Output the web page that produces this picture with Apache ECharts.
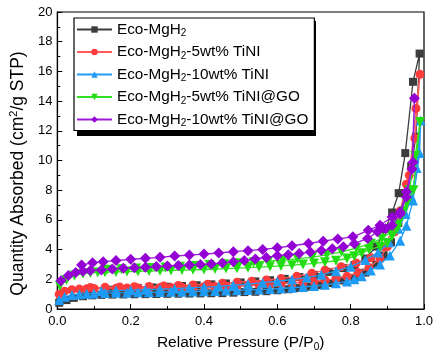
<!DOCTYPE html>
<html>
<head>
<meta charset="utf-8">
<script src="https://cdn.jsdelivr.net/npm/echarts@6/dist/echarts.min.js"></script>
<style>
  html, body { margin: 0; padding: 0; background: #fff; }
  #chart { width: 437px; height: 357px; }
</style>
</head>
<body>
<div id="chart"></div>
<script>
// legend names (rich text for the subscript)
const seriesNames = [
  "Eco-MgH2",
  "Eco-MgH2-5wt% TiNI",
  "Eco-MgH2-10wt% TiNI",
  "Eco-MgH2-5wt% TiNI@GO",
  "Eco-MgH2-10wt% TiNI@GO"
];

// [P/P0, quantity] : adsorption up, then desorption down
const ecoMgH2 = [
  [0.005,0.42],[0.025,0.6],[0.045,0.75],[0.07,0.86],[0.095,0.92],[0.12,0.95],[0.15,0.97],[0.18,0.98],
  [0.21,0.99],[0.24,1.0],[0.27,1.01],[0.30,1.02],[0.33,1.03],[0.36,1.04],[0.39,1.05],[0.42,1.06],
  [0.45,1.07],[0.48,1.1],[0.51,1.14],[0.54,1.16],[0.57,1.2],[0.60,1.26],[0.63,1.33],[0.66,1.41],
  [0.69,1.5],[0.72,1.6],[0.75,1.75],[0.78,1.92],[0.81,2.1],[0.84,2.45],[0.87,3.0],[0.89,3.6],
  [0.91,4.5],[0.93,5.8],[0.95,7.8],[0.965,9.6],[0.978,11.6],[0.988,17.2],
  [0.97,15.3],[0.949,10.5],[0.931,7.8],[0.913,6.5],[0.895,5.4],[0.87,4.2],[0.84,3.4],[0.81,2.95],
  [0.78,2.75],[0.74,2.5],[0.70,2.3],[0.66,2.15],[0.62,2.03],[0.58,1.94],[0.54,1.86],[0.50,1.79],
  [0.46,1.72],[0.42,1.66],[0.38,1.6],[0.34,1.55],[0.30,1.5],[0.26,1.45],[0.22,1.4],[0.18,1.35],[0.14,1.3]
];
const tini5 = [
  [0.005,1.0],[0.02,1.2],[0.04,1.3],[0.06,1.34],[0.08,1.37],[0.1,1.38],[0.13,1.39],[0.16,1.4],
  [0.19,1.41],[0.22,1.42],[0.25,1.43],[0.28,1.44],[0.31,1.45],[0.34,1.46],[0.37,1.47],[0.40,1.49],
  [0.43,1.51],[0.46,1.53],[0.49,1.56],[0.52,1.59],[0.55,1.62],[0.58,1.66],[0.61,1.7],[0.64,1.75],
  [0.67,1.8],[0.70,1.86],[0.73,1.94],[0.76,2.05],[0.79,2.2],[0.82,2.45],[0.85,2.8],[0.88,3.4],
  [0.90,4.2],[0.92,5.2],[0.94,6.6],[0.96,9.0],[0.978,13.5],[0.989,15.8],
  [0.975,11.5],[0.952,8.4],[0.935,6.6],[0.915,5.3],[0.89,4.2],[0.855,3.45],[0.815,3.1],[0.774,2.85],
  [0.73,2.62],[0.694,2.4],[0.653,2.2],[0.61,2.05],[0.57,1.95],[0.53,1.87],[0.49,1.8],[0.45,1.73],
  [0.41,1.67],[0.37,1.62],[0.33,1.58],[0.29,1.55],[0.25,1.52],[0.21,1.5],[0.17,1.48],[0.13,1.46],[0.09,1.44]
];
const tini10 = [
  [0.005,0.6],[0.02,0.82],[0.04,0.95],[0.06,1.0],[0.08,1.03],[0.1,1.05],[0.13,1.07],[0.16,1.09],
  [0.19,1.1],[0.22,1.12],[0.25,1.13],[0.28,1.14],[0.31,1.16],[0.34,1.17],[0.37,1.18],[0.40,1.2],
  [0.43,1.22],[0.46,1.24],[0.49,1.26],[0.52,1.28],[0.55,1.31],[0.58,1.34],[0.61,1.38],[0.64,1.43],
  [0.67,1.48],[0.70,1.55],[0.73,1.63],[0.76,1.73],[0.79,1.86],[0.81,2.0],[0.83,2.2],[0.855,2.6],
  [0.88,3.0],[0.907,3.6],[0.935,4.6],[0.952,5.6],[0.97,7.3],[0.988,10.5],[0.991,12.7],
  [0.98,9.5],[0.965,7.6],[0.95,6.4],[0.93,5.4],[0.905,4.5],[0.875,3.8],[0.84,3.3],[0.80,2.85],
  [0.76,2.55],[0.72,2.3],[0.68,2.12],[0.64,1.98],[0.60,1.87],[0.56,1.77],[0.52,1.68],[0.48,1.6],
  [0.44,1.53],[0.40,1.47],[0.36,1.42],[0.32,1.37],[0.28,1.33],[0.24,1.3],[0.20,1.27],[0.16,1.24],[0.12,1.21]
];
const tini5GO = [
  [0.007,1.55],[0.025,1.95],[0.047,2.25],[0.07,2.38],[0.09,2.43],[0.11,2.46],[0.13,2.48],[0.16,2.5],
  [0.19,2.52],[0.22,2.54],[0.25,2.56],[0.28,2.58],[0.31,2.6],[0.34,2.62],[0.37,2.64],[0.40,2.66],
  [0.43,2.69],[0.46,2.72],[0.49,2.75],[0.52,2.78],[0.55,2.82],[0.58,2.86],[0.61,2.9],[0.64,2.95],
  [0.67,3.0],[0.70,3.07],[0.73,3.15],[0.76,3.25],[0.79,3.4],[0.81,3.55],[0.83,3.75],[0.85,4.0],
  [0.88,4.2],[0.90,4.45],[0.913,4.9],[0.927,5.4],[0.94,6.3],[0.953,7.1],[0.971,8.0],[0.989,12.6],
  [0.976,10.3],[0.96,8.0],[0.945,6.6],[0.93,5.7],[0.91,5.2],[0.885,4.75],[0.855,4.4],[0.815,4.1],
  [0.775,3.85],[0.735,3.65],[0.695,3.5],[0.655,3.38],[0.615,3.3],[0.575,3.22],[0.535,3.15],[0.495,3.08],
  [0.455,3.02],[0.415,2.96],[0.375,2.9],[0.335,2.85],[0.295,2.8],[0.255,2.76],[0.215,2.72],[0.175,2.68],[0.135,2.64]
];
const tini10GO = [
  [0.01,1.9],[0.03,2.25],[0.05,2.45],[0.07,2.55],[0.09,2.6],[0.12,2.63],[0.15,2.7],[0.18,2.74],
  [0.21,2.78],[0.24,2.81],[0.27,2.86],[0.30,2.9],[0.33,2.93],[0.36,2.96],[0.39,3.0],[0.42,3.03],
  [0.45,3.1],[0.48,3.19],[0.51,3.27],[0.54,3.37],[0.57,3.47],[0.60,3.59],[0.63,3.66],[0.66,3.73],
  [0.69,3.83],[0.72,3.94],[0.75,4.06],[0.78,4.19],[0.81,4.4],[0.846,4.75],[0.873,5.2],[0.895,5.4],
  [0.913,5.64],[0.935,6.4],[0.952,7.54],[0.967,9.43],[0.974,14.2],
  [0.97,9.88],[0.952,7.9],[0.935,6.53],[0.913,6.2],[0.88,5.64],[0.848,5.3],[0.806,4.86],[0.765,4.72],
  [0.725,4.57],[0.685,4.41],[0.64,4.26],[0.60,4.12],[0.56,4.01],[0.52,3.93],[0.48,3.86],[0.44,3.77],
  [0.40,3.7],[0.36,3.63],[0.32,3.57],[0.28,3.48],[0.24,3.41],[0.20,3.35],[0.16,3.26],[0.125,3.19],[0.096,3.12],[0.066,2.96]
];

const seriesData = [ecoMgH2, tini5, tini10, tini5GO, tini10GO];
const markerColors = ["#3c3c3c", "#ff3b3b", "#1e9bf5", "#22dd11", "#9400d3"];
const lineColors = ["#3c3c3c", "#ff5a5a", "#1e9bf5", "#33e022", "#9c1ad8"];
const symbols = ["rect", "circle", "triangle", "triangle", "diamond"];
const symbolSizes = [8, 9, 10, 10, 11];
const symbolRotates = [0, 0, 0, 180, 0];

const font = "Liberation Sans, Arial, sans-serif";

const chart = echarts.init(document.getElementById("chart"));

const series = seriesData.map((d, i) => ({
  name: seriesNames[i],
  type: "line",
  data: d,
  symbol: symbols[i],
  symbolSize: symbolSizes[i],
  symbolRotate: symbolRotates[i],
  showAllSymbol: true,
  itemStyle: { color: markerColors[i] },
  lineStyle: { color: lineColors[i], width: 1.3 },
  z: 2 + i,
  animation: false
}));

chart.setOption({
  animation: false,
  grid: {
    left: 52, right: 13, top: 12, bottom: 46,
    show: true, borderColor: "#000", borderWidth: 1.2
  },
  // solid drop shadow behind the legend box
  graphic: [{
    type: "rect",
    left: 77, top: 21,
    shape: { width: 239, height: 115 },
    style: { fill: "#000" },
    z: 10
  }],
  legend: {
    orient: "vertical",
    left: 74, top: 18,
    itemWidth: 35, itemHeight: 8,
    itemGap: 6,
    padding: [4, 6, 2, 2],
    backgroundColor: "#fff",
    borderColor: "#000",
    borderWidth: 1.2,
    z: 20,
    data: seriesNames,
    formatter: (name) => "{a|" + name.replace("MgH2", "MgH}{sub|2}{a|") + "}",
    textStyle: {
      fontFamily: font,
      color: "#000",
      rich: {
        a: { fontSize: 15.3, fontFamily: font, color: "#000", lineHeight: 18 },
        sub: { fontSize: 10, fontFamily: font, color: "#000", padding: [8, 0, 0, 0] }
      }
    }
  },
  xAxis: {
    type: "value",
    min: 0, max: 1, interval: 0.2,
    name: "{a|Relative Pressure (P/P}{sub|0}{a|)}",
    nameLocation: "middle",
    nameGap: 24,
    nameTextStyle: {
      rich: {
        a: { fontSize: 15.5, fontFamily: font, color: "#000" },
        sub: { fontSize: 10, fontFamily: font, color: "#000", padding: [9, 0, 0, 0] }
      }
    },
    axisLine: { lineStyle: { color: "#000", width: 1.2 } },
    axisTick: { inside: true, length: 5, lineStyle: { color: "#000" } },
    minorTick: { show: true, splitNumber: 2, length: 3, lineStyle: { color: "#000" } },
    splitLine: { show: false },
    axisLabel: {
      margin: 6,
      color: "#000", fontSize: 13, fontFamily: font,
      formatter: (v) => v.toFixed(1)
    }
  },
  yAxis: {
    type: "value",
    min: 0, max: 20, interval: 2,
    name: "{a|Quantity Absorbed (cm}{sup|2}{a|/g STP)}",
    nameLocation: "middle",
    nameGap: 20,
    nameTextStyle: {
      padding: [0, 26, 0, 0],
      rich: {
        a: { fontSize: 17.5, fontFamily: font, color: "#000" },
        sup: { fontSize: 11, fontFamily: font, color: "#000", padding: [0, 0, 9, 0] }
      }
    },
    axisLine: { show: true, lineStyle: { color: "#000", width: 1.2 } },
    axisTick: { inside: true, length: 5, lineStyle: { color: "#000" } },
    minorTick: { show: true, splitNumber: 2, length: 3, lineStyle: { color: "#000" } },
    splitLine: { show: false },
    axisLabel: { margin: 5, color: "#000", fontSize: 13, fontFamily: font }
  },
  series: series
});
</script>
</body>
</html>
